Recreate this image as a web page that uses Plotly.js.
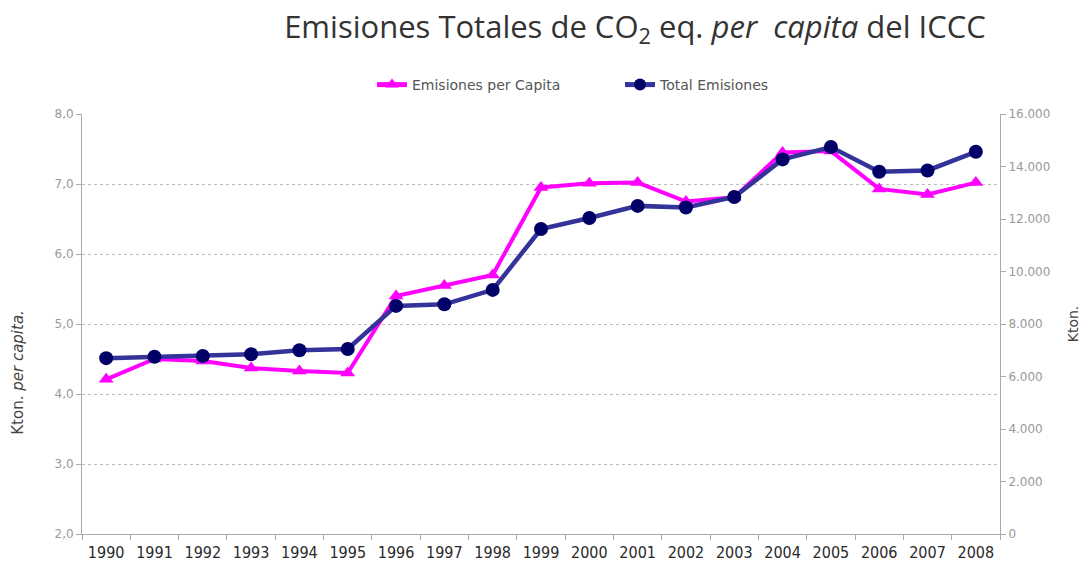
<!DOCTYPE html>
<html>
<head>
<meta charset="utf-8">
<script src="https://cdn.plot.ly/plotly-3.0.1.min.js"></script>
<style>html,body{margin:0;padding:0;background:#fff;}#chart{width:1086px;height:563px;}</style>
</head>
<body>
<div id="chart"></div>
<script>
const years = ["1990","1991","1992","1993","1994","1995","1996","1997","1998","1999","2000","2001","2002","2003","2004","2005","2006","2007","2008"];
const perCapita = [4.21, 4.50, 4.47, 4.37, 4.33, 4.30, 5.40, 5.55, 5.70, 6.95, 7.01, 7.02, 6.75, 6.81, 7.45, 7.47, 6.93, 6.85, 7.02];
const totalEmisiones = [6700, 6750, 6780, 6850, 7000, 7050, 8690, 8750, 9300, 11620, 12040, 12500, 12440, 12840, 14270, 14740, 13800, 13850, 14560];
const leftTicks = [2, 3, 4, 5, 6, 7, 8];
const rightTicks = [0, 2000, 4000, 6000, 8000, 10000, 12000, 14000, 16000];

const traces = [
  {
    x: years, y: perCapita, name: "Emisiones per Capita", type: "scatter", mode: "lines+markers",
    yaxis: "y",
    line: {color: "#FF00FF", width: 4},
    marker: {symbol: "triangle-up", size: 13, color: "#FF00FF"}
  },
  {
    x: years, y: totalEmisiones, name: "Total Emisiones", type: "scatter", mode: "lines+markers",
    yaxis: "y2",
    line: {color: "#333399", width: 4.5},
    marker: {symbol: "circle", size: 14, color: "#000066"}
  }
];

const layout = {
  width: 1086, height: 563,
  paper_bgcolor: "#fff", plot_bgcolor: "#fff",
  separators: ",.",
  margin: {l: 82, r: 86, t: 114, b: 29},
  font: {family: "DejaVu Sans, sans-serif", color: "#444"},
  title: {
    text: "Emisiones Totales de CO<sub>2</sub> eq. <i>per  capita</i> del ICCC",
    font: {family: "Open Sans, DejaVu Sans, sans-serif", size: 31, color: "#333"},
    x: 635/1086, xanchor: "center", xref: "container",
    y: 1 - 27/563, yanchor: "middle", yref: "container"
  },
  showlegend: true,
  legend: {
    orientation: "h", x: (372-82)/918, xanchor: "left", y: 1 + 29/420, yanchor: "middle",
    font: {family: "DejaVu Sans, sans-serif", size: 14, color: "#555"},
    entrywidth: 203, itemsizing: "constant", bgcolor: "rgba(0,0,0,0)"
  },
  xaxis: {
    type: "category", range: [-0.5, 18.5], tickson: "boundaries",
    ticks: "outside", ticklen: 5, tickcolor: "#aaa", ticklabelstandoff: 4,
    showline: true, linecolor: "#aaa", linewidth: 1,
    showgrid: false, zeroline: false,
    tickfont: {family: "DejaVu Sans Condensed, DejaVu Sans, sans-serif", size: 16, color: "#2a2a2a"}
  },
  yaxis: {
    range: [2, 8], tickvals: leftTicks, tickformat: ".1f",
    ticks: "outside", ticklen: 5, tickcolor: "#aaa",
    showline: true, linecolor: "#aaa", linewidth: 1,
    showgrid: true, gridcolor: "#bbb", griddash: "3px,3px", gridwidth: 1, zeroline: false,
    tickfont: {family: "DejaVu Sans, sans-serif", size: 12, color: "#999"}
  },
  yaxis2: {
    overlaying: "y", side: "right",
    range: [0, 16000], tickvals: rightTicks, tickformat: ",d",
    ticks: "outside", ticklen: 5, tickcolor: "#aaa",
    showline: true, linecolor: "#aaa", linewidth: 1,
    showgrid: false, zeroline: false,
    tickfont: {family: "DejaVu Sans, sans-serif", size: 12, color: "#999"},
    title: {text: "Kton.", font: {family: "DejaVu Sans, sans-serif", size: 14, color: "#444"}, standoff: 18}
  },
  annotations: [
    {
      text: "Kton. <i>per capita.</i>", textangle: -90,
      xref: "paper", yref: "paper", x: -0.07, y: (534-372)/420,
      xanchor: "center", yanchor: "middle", showarrow: false,
      font: {family: "DejaVu Sans, sans-serif", size: 15, color: "#444"}
    }
  ]
};

Plotly.newPlot("chart", traces, layout, {displayModeBar: false, staticPlot: true});
</script>
</body>
</html>
